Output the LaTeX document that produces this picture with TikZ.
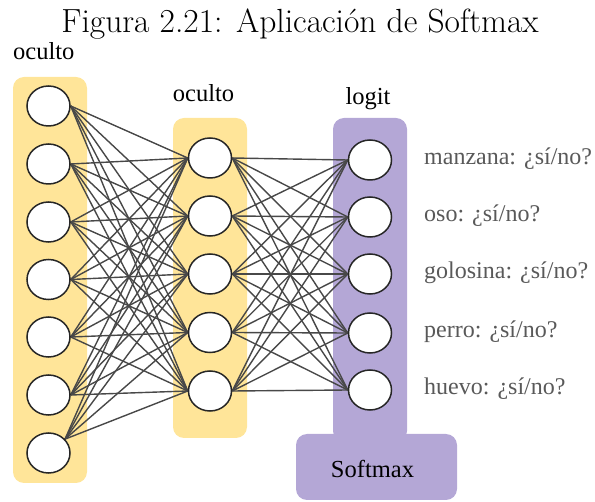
\documentclass[tikz,border=0pt]{standalone}
\usepackage{fontspec}
\newfontfamily\tnr{Liberation Serif}
\usetikzlibrary{shapes.geometric}
\definecolor{layeryellow}{HTML}{FFE599}
\definecolor{layerpurple}{HTML}{B4A7D6}
\definecolor{edgegray}{HTML}{484848}
\definecolor{labelgray}{HTML}{595959}
\pgfdeclarelayer{bg}
\pgfdeclarelayer{edges}
\pgfsetlayers{bg,edges,main}
\tikzset{
  neuron/.style={ellipse, draw=black!85, line width=1.5pt, fill=white, minimum width=43pt, minimum height=40pt, inner sep=0pt},
  yellowbox/.style={fill=layeryellow, rounded corners=11pt},
  purplebox/.style={fill=layerpurple, rounded corners=11pt},
  conn/.style={draw=edgegray, line width=1.4pt},
  lbl/.style={font=\tnr\fontsize{24.5}{28}\selectfont, inner sep=0pt},
  outlbl/.style={font=\tnr\fontsize{24}{28}\selectfont, text=labelgray, inner sep=0pt, anchor=base west},
}
\begin{document}
\begin{tikzpicture}[x=1pt,y=-1pt]
\useasboundingbox (0,0) rectangle (595,502);
% title
\node[inner sep=0pt, anchor=base, font=\fontsize{33.5}{38}\selectfont] (title) at (300,33) {Figura 2.21: Aplicación de Softmax};
% layer labels
\node[lbl, anchor=base west] (lab1) at (13,60) {oculto};
\node[lbl, anchor=base] (lab2) at (203.5,102) {oculto};
\node[lbl, anchor=base] (lab3) at (368,105) {logit};
% neurons
\foreach \i/\y in {1/106,2/164,3/222,4/279.5,5/337,6/395,7/453}
  \node[neuron] (l\i) at (48.5,\y) {};
\foreach \i/\y in {1/158,2/216,3/274,4/332.5,5/391}
  \node[neuron] (m\i) at (210,\y) {};
\foreach \i/\y in {1/160,2/217,3/274,4/333,5/390}
  \node[neuron] (r\i) at (370,\y) {};
% output labels
\node[outlbl] (o1) at (424,165) {manzana: ¿sí/no?};
\node[outlbl] (o2) at (424,222) {oso: ¿sí/no?};
\node[outlbl] (o3) at (424,279) {golosina: ¿sí/no?};
\node[outlbl] (o4) at (424,338) {perro: ¿sí/no?};
\node[outlbl] (o5) at (424,395) {huevo: ¿sí/no?};
% boxes
\begin{pgfonlayer}{bg}
  \fill[yellowbox] (13,77) rectangle (87,483);
  \fill[yellowbox] (173,118) rectangle (247,438);
  \fill[purplebox] (333,118) rectangle (407,442);
  \fill[purplebox] (296,434) rectangle (457,500);
\end{pgfonlayer}
\node[lbl, anchor=base] (softmax) at (372.5,478) {Softmax};
% connections
\begin{pgfonlayer}{edges}
  \foreach \i in {1,...,6}
    \foreach \j in {1,...,5}
      \draw[conn] (l\i.east) -- (m\j.west);
  \foreach \j in {1,...,5}
    \draw[conn] (l7.40) -- (m\j.west);
  \foreach \i in {1,...,5}
    \foreach \j in {1,...,5}
      \draw[conn] (m\i.east) -- (r\j.west);
\end{pgfonlayer}
\end{tikzpicture}
\end{document}
